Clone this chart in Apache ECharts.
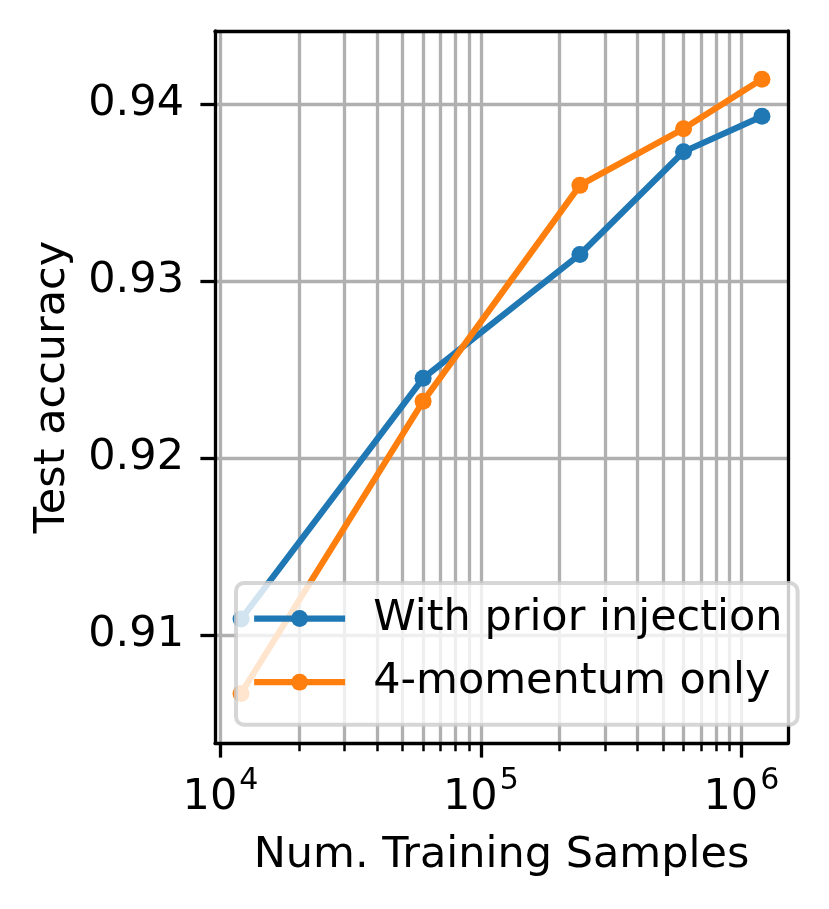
<!DOCTYPE html>
<html>
<head>
<meta charset="utf-8">
<script src="https://cdn.jsdelivr.net/npm/echarts@6/dist/echarts.min.js"></script>
<style>
html, body { margin: 0; padding: 0; background: #fff; }
#chart { width: 829px; height: 909px; }
</style>
</head>
<body>
<div id="chart"></div>
<script>
// values
var samples = [12000, 60000, 240000, 600000, 1200000];
var withPrior = [0.9109, 0.9245, 0.9315, 0.9373, 0.9393];
var momentumOnly = [0.9067, 0.9232, 0.9354, 0.9386, 0.9414];
var seriesNames = ['With prior injection', '4-momentum only'];
var colors = ['#1f77b4', '#ff7f0e'];

var majorTicks = [1e4, 1e5, 1e6];
var minorTicks = [2e4, 3e4, 4e4, 5e4, 6e4, 7e4, 8e4, 9e4,
	2e5, 3e5, 4e5, 5e5, 6e5, 7e5, 8e5, 9e5];
var yTicks = [0.91, 0.92, 0.93, 0.94];

var FONT = 'DejaVu Sans';
var FS = 43;
var GRID_COLOR = '#b0b0b0';

// x is drawn on a log10 scale
function lg(v){ return Math.log10(v); }
function pairs(ys){
	return samples.map(function(x, i){ return [lg(x), ys[i]]; });
}

var xMin = lg(samples[0]) - 0.1;
var xMax = lg(samples[samples.length - 1]) + 0.1;
var yMin = 0.9039, yMax = 0.94412;

var chart = echarts.init(document.getElementById('chart'));

function spineAxis(pos, min, max){
	return {
		type: 'value', position: pos, min: min, max: max, z: 3,
		axisLine: {show: true, lineStyle: {color: '#000', width: 3.3}},
		axisTick: {show: false}, axisLabel: {show: false}, splitLine: {show: false}
	};
}

var xMajor = {
	type: 'value', position: 'bottom', min: xMin, max: xMax,
	axisLine: {show: false},
	axisTick: {show: true, customValues: majorTicks.map(lg), length: 14.6,
		lineStyle: {color: '#000', width: 3.3}},
	axisLabel: {
		show: true, customValues: majorTicks.map(lg), margin: 23,
		formatter: function(v){ return '{b|10}{s|' + Math.round(v) + '}'; },
		rich: {
			b: {fontFamily: FONT, fontSize: FS, color: '#000', lineHeight: 53, verticalAlign: 'bottom'},
			s: {fontFamily: FONT, fontSize: 30, color: '#000', lineHeight: 30, verticalAlign: 'top', padding: [0, 0, 0, 2]}
		}
	},
	splitLine: {show: true, lineStyle: {color: GRID_COLOR, width: 3.3}}
};

var xMinor = {
	type: 'value', position: 'bottom', min: xMin, max: xMax,
	axisLine: {show: false},
	axisTick: {show: true, customValues: minorTicks.map(lg), length: 8.3,
		lineStyle: {color: '#000', width: 2.5}},
	axisLabel: {show: false},
	splitLine: {show: true, lineStyle: {color: GRID_COLOR, width: 3.3}}
};

var xBottom = spineAxis('bottom', xMin, xMax);
xBottom.name = 'Num. Training Samples';
xBottom.nameLocation = 'middle';
xBottom.nameGap = 91;
xBottom.nameTextStyle = {fontFamily: FONT, fontSize: FS, color: '#000'};

var yMain = {
	type: 'value', position: 'left', min: yMin, max: yMax,
	axisLine: {show: false},
	axisTick: {show: true, customValues: yTicks, length: 14.6,
		lineStyle: {color: '#000', width: 3.3}},
	axisLabel: {show: true, customValues: yTicks, margin: 31,
		fontFamily: FONT, fontSize: FS, color: '#000',
		formatter: function(v){ return v.toFixed(2); }},
	splitLine: {show: true, lineStyle: {color: GRID_COLOR, width: 3.3}},
	name: 'Test accuracy', nameLocation: 'middle', nameGap: 141,
	nameTextStyle: {fontFamily: FONT, fontSize: FS, color: '#000'}
};

var option = {
	animation: false,
	backgroundColor: '#fff',
	grid: {left: 215, top: 31, width: 573, height: 712, containLabel: false, outerBoundsMode: 'none'},
	xAxis: [xMajor, xMinor, xBottom, spineAxis('top', xMin, xMax)],
	yAxis: [yMain, spineAxis('left', yMin, yMax), spineAxis('right', yMin, yMax)],
	legend: {
		orient: 'vertical', left: 236, top: 583,
		data: seriesNames,
		itemWidth: 91, itemHeight: 21, itemGap: 20.7,
		padding: [14, 15, 21, 15],
		backgroundColor: 'rgba(255,255,255,0.8)',
		borderColor: 'rgba(204,204,204,0.8)', borderWidth: 4, borderRadius: 8,
		textStyle: {fontFamily: FONT, fontSize: FS, color: '#000', lineHeight: 42, padding: [0, 0, 0, 23]},
		lineStyle: {width: 6.25},
		selectedMode: false,
		z: 10
	},
	series: [
		{
			name: seriesNames[0], type: 'line', data: pairs(withPrior),
			symbol: 'circle', symbolSize: 17, showSymbol: true,
			lineStyle: {color: colors[0], width: 6.25},
			itemStyle: {color: colors[0]},
			emphasis: {disabled: true}
		},
		{
			name: seriesNames[1], type: 'line', data: pairs(momentumOnly),
			symbol: 'circle', symbolSize: 17, showSymbol: true,
			lineStyle: {color: colors[1], width: 6.25},
			itemStyle: {color: colors[1]},
			emphasis: {disabled: true}
		}
	]
};
chart.setOption(option);
</script>
</body>
</html>
